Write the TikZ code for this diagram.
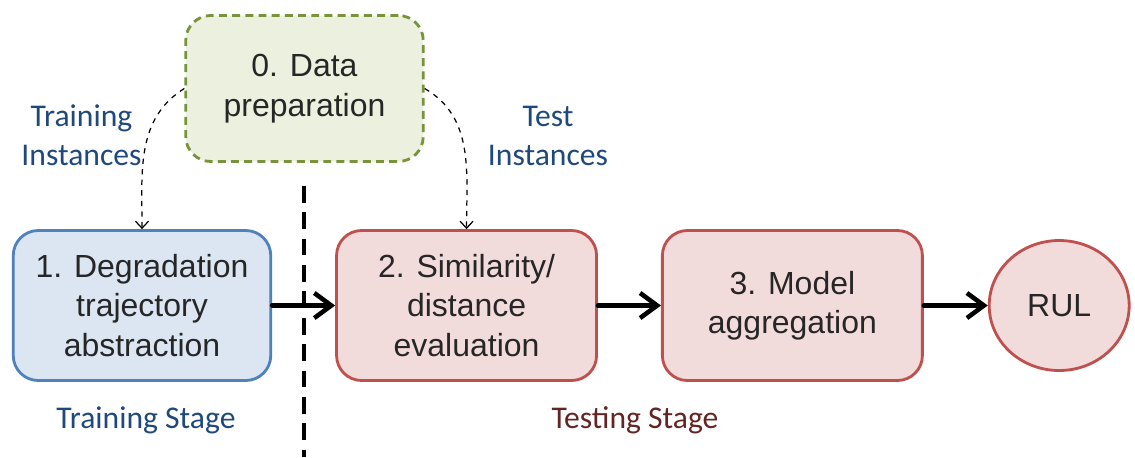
\documentclass[tikz,border=0pt]{standalone}
\usepackage{fontspec}
\setmainfont{Liberation Sans}
\newfontfamily\labelfont{Carlito}
\usepackage{tikz}
\usetikzlibrary{arrows.meta,shapes,positioning}
\usepackage{xcolor}
\definecolor{stblue}{RGB}{79,129,189}
\definecolor{stlightblue}{RGB}{220,230,242}
\definecolor{stred}{RGB}{192,80,77}
\definecolor{stlightred}{RGB}{242,220,219}
\definecolor{stgreen}{RGB}{119,147,60}
\definecolor{stlightgreen}{RGB}{235,241,222}
\definecolor{stnavy}{RGB}{31,73,125}
\definecolor{stmaroon}{RGB}{99,37,35}
\definecolor{txtgray}{RGB}{38,38,38}
\tikzstyle{arrow} = [line width=2.6pt, line cap=round, -{Straight Barb[length=3.4mm,width=5mm]}, color=black]
\tikzstyle{feed} = [line width=0.7pt, dashed, -{Straight Barb[length=1.4mm,width=2.6mm]}, color=black]
\tikzstyle{divider} = [line width=2.3pt, dash pattern=on 9.5pt off 5.5pt, color=black]
\tikzstyle{stage} = [rectangle, rounded corners=0.5cm, minimum width=5.2cm, minimum height=3.0cm, align=center, text centered, line width=1.6pt, text=txtgray, font=\fontsize{18.2}{22.4}\selectfont]
\tikzstyle{trainbox} = [stage, draw=stblue, fill=stlightblue]
\tikzstyle{testbox} = [stage, draw=stred, fill=stlightred]
\tikzstyle{prepbox} = [stage, draw=stgreen, fill=stlightgreen, dash pattern=on 4.5pt off 3pt, minimum width=4.75cm, minimum height=2.92cm]
\tikzstyle{output} = [ellipse, draw=stred, fill=stlightred, line width=1.6pt, minimum width=2.8cm, minimum height=2.6cm, inner sep=0pt, text=txtgray, font=\fontsize{18.2}{22.4}\selectfont]
\tikzstyle{caption} = [align=center, font=\labelfont\fontsize{18}{22}\selectfont]

\begin{document}
\begin{tikzpicture}
\useasboundingbox (0,0) rectangle (22.7,-9.14);

% data source on top
\node (prep) at (6.09,-1.77) [prepbox] {0. Data\\preparation};

% pipeline
\node (abstract) at (2.84,-6.11) [trainbox, minimum width=5.15cm] {1. Degradation\\trajectory\\abstraction};
\node (similar) [testbox, right=1.26cm of abstract] {2. Similarity/\\distance\\evaluation};
\node (aggregate) [testbox, right=1.26cm of similar] {3. Model\\aggregation};
\node (rul) [output, right=1.28cm of aggregate] {RUL};

\draw[arrow] (abstract) -- (similar);
\draw[arrow] (similar) -- (aggregate);
\draw[arrow] (aggregate) -- (rul);

% instances fed from the data
\draw[feed] (prep.west) to[out=212,in=90] (abstract.north);
\draw[feed] (prep.east) to[out=-30,in=90] (similar.north);
\node (traininst) at (1.63,-2.71) [caption, text=stnavy] {Training\\Instances};
\node (testinst) at (10.96,-2.72) [caption, text=stnavy] {Test\\Instances};

% split between the two stages
\coordinate (divtop) at (6.08,-3.72);
\coordinate (divbot) at (6.08,-9.14);
\draw[divider] (divtop) -- (divbot);
\node (trainstage) at (2.92,-8.4) [caption, text=stnavy] {Training Stage};
\node (teststage) at (12.7,-8.4) [caption, text=stmaroon] {Testing Stage};
\end{tikzpicture}
\end{document}
